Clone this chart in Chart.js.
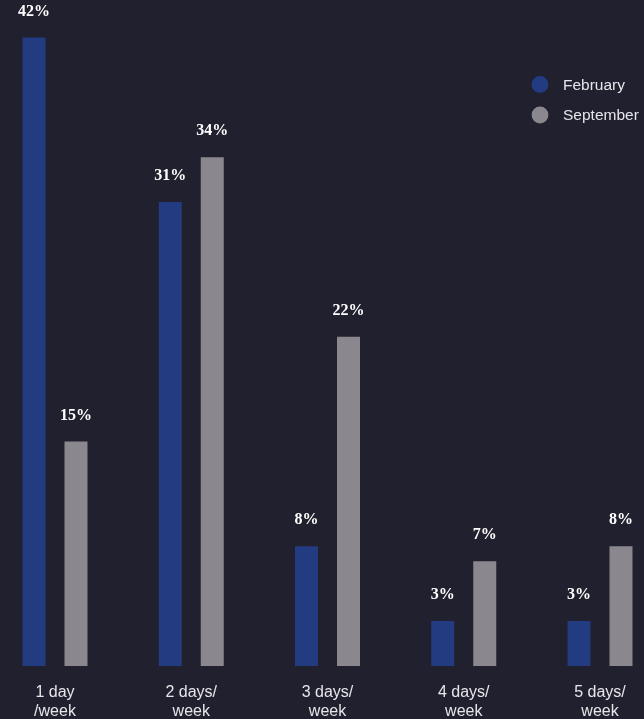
<!DOCTYPE html>
<html>
<head>
<meta charset="utf-8">
<script src="https://cdn.jsdelivr.net/npm/chart.js@4.4.1/dist/chart.umd.min.js"></script>
<style>
  html, body { margin: 0; padding: 0; background: #21202e; }
  #wrap { width: 644px; height: 719px; }
</style>
</head>
<body>
<div id="wrap"><canvas id="c" width="644" height="719"></canvas></div>
<script>
const categories = [["1 day", "/week"], ["2 days/", "week"], ["3 days/", "week"], ["4 days/", "week"], ["5 days/", "week"]];
const seriesNames = ["February", "September"];
const february = [42, 31, 8, 3, 3];
const september = [15, 34, 22, 7, 8];
const colors = ["#233b80", "#8b878e"];

const valueLabels = {
  id: 'valueLabels',
  afterDatasetsDraw(chart) {
    const ctx = chart.ctx;
    ctx.save();
    ctx.fillStyle = '#ffffff';
    ctx.font = 'bold 16px "Liberation Serif", "DejaVu Serif", serif';
    ctx.textAlign = 'center';
    ctx.textBaseline = 'middle';
    chart.data.datasets.forEach((ds, di) => {
      const meta = chart.getDatasetMeta(di);
      meta.data.forEach((bar, i) => {
        ctx.fillText(ds.data[i] + '%', bar.x, bar.y - 26);
      });
    });
    ctx.restore();
  }
};

const sideLegend = {
  id: 'sideLegend',
  afterDraw(chart) {
    const ctx = chart.ctx;
    ctx.save();
    ctx.font = '15.5px "Liberation Sans", Arial, sans-serif';
    ctx.textAlign = 'left';
    ctx.textBaseline = 'middle';
    seriesNames.forEach((name, i) => {
      const y = 84.5 + i * 30.5;
      ctx.beginPath();
      ctx.arc(540, y, 8.4, 0, Math.PI * 2);
      ctx.fillStyle = colors[i];
      ctx.fill();
      ctx.fillStyle = '#e6e6ea';
      ctx.fillText(name, 563, y + 1);
    });
    ctx.restore();
  }
};

new Chart(document.getElementById('c'), {
  type: 'bar',
  data: {
    labels: categories,
    datasets: [
      { label: seriesNames[0], data: february, backgroundColor: colors[0], clip: false },
      { label: seriesNames[1], data: september, backgroundColor: colors[1], clip: false }
    ]
  },
  options: {
    responsive: false,
    animation: false,
    devicePixelRatio: 1,
    categoryPercentage: 0.6165,
    barPercentage: 0.5476,
    layout: { padding: { left: 55, right: 44, top: 0, bottom: 0 } },
    plugins: {
      legend: { display: false },
      tooltip: { enabled: false }
    },
    scales: {
      x: {
        offset: false,
        grid: { display: false, drawTicks: false },
        border: { display: false },
        ticks: {
          color: '#e6e6ea',
          font: { family: '"Liberation Sans", Arial, sans-serif', size: 16, lineHeight: 1.2 },
          padding: 17,
          maxRotation: 0,
          autoSkip: false
        },
        afterFit(scale) { scale.height = 53; }
      },
      y: {
        display: false,
        min: 0,
        max: 44.5
      }
    }
  },
  plugins: [valueLabels, sideLegend]
});
</script>
</body>
</html>
